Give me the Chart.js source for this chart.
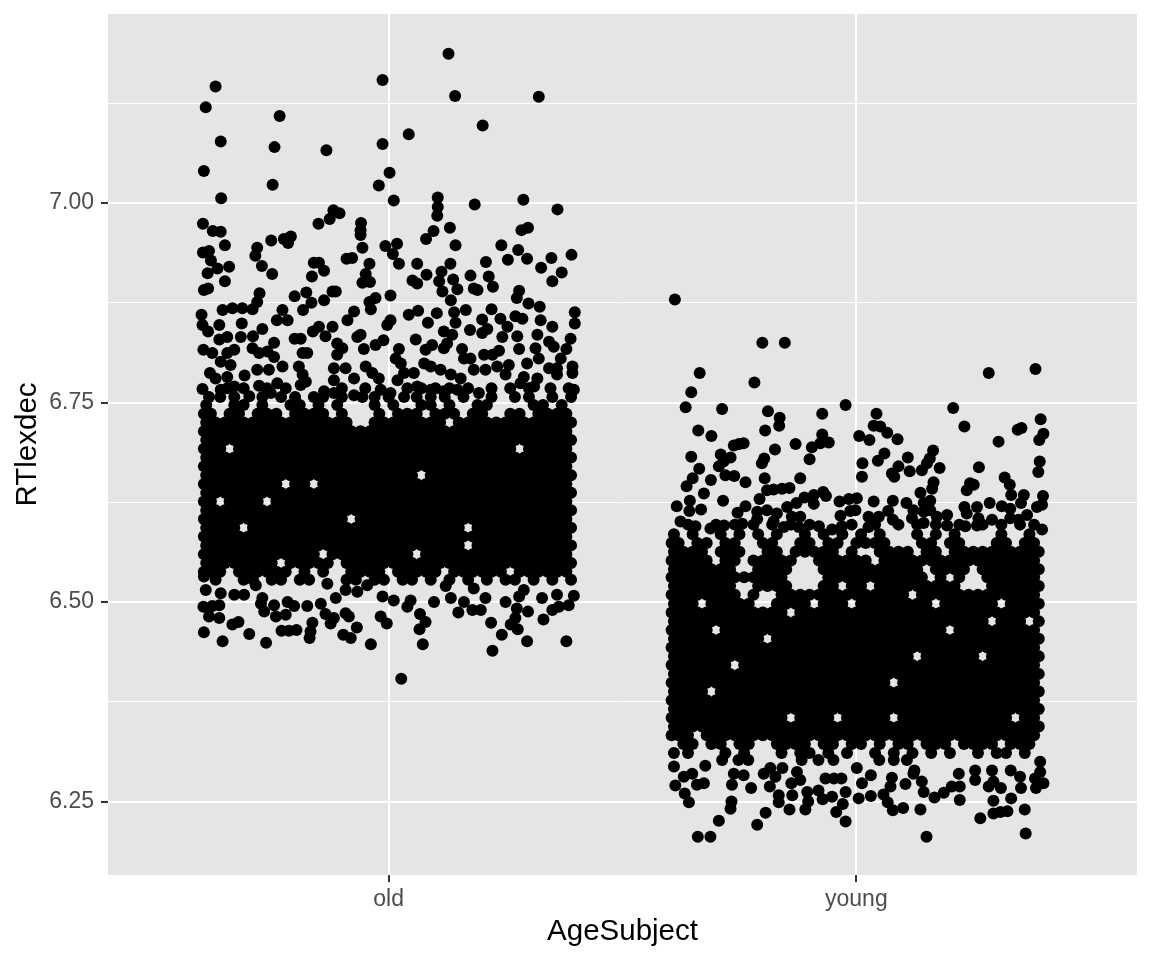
<!DOCTYPE html>
<html>
<head>
<meta charset="utf-8">
<style>body{margin:0;background:#fff}canvas{display:block}</style>
<script src="https://cdn.jsdelivr.net/npm/chart.js@4"></script>
</head>
<body>
<canvas id="chart" width="1152" height="960"></canvas>
<script>
const categories = ['old', 'young'];
const categoryTicks = [1, 2];
const yTicks = [6.25, 6.375, 6.5, 6.625, 6.75, 6.875, 7, 7.125];
const yLabelled = [6.25, 6.5, 6.75, 7];

// each row: RTlexdec value, then the jittered x positions seen at that value
const oldRows = [
[7.187,1.128],[7.154,.987],[7.146,.63],[7.134,1.142],[7.133,1.321],[7.12,.609],[7.109,.767],[7.097,1.201],[7.086,1.043],[7.077,.641],[7.074,.987],[7.07,.756],[7.066,.867],[7.04,.605],[7.038,1.002],[7.023,.752],[7.022,.979],
[7.007,1.105],[7.006,.642],[7.004,1.288],[7.003,1.011],[6.998,1.184],[6.995,1.105],[6.992,1.361],[6.991,.882],[6.987,.895],[6.984,1.104],[6.98,.874],[6.975,.941],[6.974,.85,.603],[6.969,1.131,1.298],[6.966,.94,1.284],[6.965,.624,1.096],[6.964,.641],[6.96,.94],[6.958,.791],[6.955,.776,1.08],[6.953,.749],[6.95,.785],
[6.949,1.018],[6.947,.65,1.143,1.241],[6.946,.993],[6.944,.719,.944],[6.941,1.277],[6.94,.616],[6.938,.603],[6.936,1.009],[6.935,1.391],[6.934,.715],[6.931,.922,1.348],[6.93,.91,1.296],[6.929,1.255],[6.928,.62],[6.926,1.208],[6.925,.84,.851],[6.924,.959,1.022,1.061,1.132],[6.921,.729],[6.92,.659],[6.919,1.326],
[6.918,.634],[6.915,.862],[6.914,1.113],[6.913,1.37],[6.912,.613],[6.911,.751,.951],[6.91,1.081],[6.909,1.175],[6.908,.836,1.214],[6.904,1.138],[6.903,1.051],[6.902,.65,1.35,1.108],[6.901,.96],[6.9,.944],[6.899,1.061],[6.895,1.223],[6.893,.614,1.182],[6.892,1.147],[6.891,.605,1.19],[6.89,1.279],[6.889,.88,.887,1.115],[6.888,.824],[6.887,.724],
[6.884,1.004],[6.883,.799],[6.881,.972,1.274],[6.878,.862,1.133],[6.876,.719,.959],[6.875,.835],[6.874,1.299],[6.87,1.323],[6.868,.666,.687],[6.867,.709,.962,1.22],[6.866,.645,.817,.773,1.165],[6.865,1.063],[6.864,.926],[6.863,1.14,1.398],[6.862,1.103],[6.86,.6,1.043],[6.858,1.271],[6.855,1.239,1.286],[6.854,1.2],[6.853,.761,.784,.912,1.004,1.325],[6.85,1.084,1.143],[6.849,.686,1.398],[6.847,.602,.638,.997],[6.845,.851,.88,1.254,1.35],[6.842,.73,1.211],[6.841,1.174],
[6.839,.614,.838,1.118],[6.837,1.2],[6.835,.94,1.136,1.318],[6.833,.71,.865,1.275],[6.832,.655,.684,.933,1.243],[6.83,.799,.812,1.389],[6.829,.638,1.058],[6.828,.989],[6.826,1.343],[6.825,.755],[6.824,.89,1.125],[6.822,.972,1.093],[6.82,1.353],[6.818,.709,.901,1.118,1.314],[6.817,.947,1.022,1.157,1.279,1.38],[6.816,.604,.67,1.079],[6.815,1.236],[6.814,.741],[6.812,.623,.655,.723,.816,.826],[6.81,.89,1.204,1.222],[6.807,.755],[6.805,1.015,1.161,1.175,1.321,1.368],[6.801,.641],
[6.799,1.026,1.076,1.296],[6.797,.662,1.257],[6.795,.773,.808,.951,1.09,1.232,1.393],[6.793,.883,.908,1.343,1.36],[6.791,.719,.744,1.111,1.182,1.207],[6.787,.618,.965,1.033,1.054,1.393],[6.785,.816,1.133,1.25,1.36],[6.784,.692],[6.782,.655,1.289],[6.78,.63,.926,.979,1.154,1.318],[6.778,.883,1.019],[6.776,.823],[6.774,.762,1.282],[6.772,.812],[6.771,.723],[6.77,.67,1.061,1.311],[6.768,1.346,1.385,.655,.69,.74,.78,.9,.95,1.04,1.07,1.1,1.13,1.17,1.22,1.26,1.3],[6.767,.602],[6.766,.641,.983,1.09,1.147,1.396],[6.764,.862,1.118],[6.762,.748,.883,1.004,1.193],[6.759,.926],[6.758,.702],[6.757,.616,.944,1.033,.64,.67,.73,.77,.8,.84,.86,.9,.97,1,1.06,1.09,1.12,1.16,1.22,1.27,1.3,1.35,1.39],
[6.747,.61,.67,.69,.73,.79,.81,.85,.89,.97,1.01,1.07,1.09,1.13,1.19,1.21,1.31,1.33,1.37],
[6.736,.605,.62,.66,.68,.72,.74,.76,.8,.82,.84,.86,.9,.98,1.02,1.04,1.06,1.1,1.12,1.14,1.18,1.2,1.26,1.28,1.32,1.34,1.36,1.38],
[6.725,.61,.63,.65,.67,.69,.71,.73,.75,.77,.79,.81,.83,.85,.87,.89,.91,.97,.99,1.01,1.03,1.05,1.07,1.09,1.11,1.15,1.17,1.19,1.21,1.23,1.25,1.27,1.29,1.31,1.33,1.35,1.37,1.39],
[6.714,.605,.62,.64,.66,.68,.7,.72,.74,.76,.78,.8,.82,.84,.86,.88,.9,.92,.94,.96,.98,1,1.02,1.04,1.06,1.08,1.1,1.12,1.14,1.16,1.18,1.2,1.22,1.24,1.26,1.28,1.3,1.32,1.34,1.36,1.38],
[6.703,.61,.63,.65,.67,.69,.71,.73,.75,.77,.79,.81,.83,.85,.87,.89,.91,.93,.95,.97,.99,1.01,1.03,1.05,1.07,1.09,1.11,1.13,1.15,1.17,1.19,1.21,1.23,1.25,1.27,1.29,1.31,1.33,1.35,1.37,1.39],
[6.692,.605,.62,.64,.68,.7,.72,.74,.76,.78,.8,.82,.84,.86,.88,.9,.92,.94,.96,.98,1,1.02,1.04,1.06,1.08,1.1,1.12,1.14,1.16,1.18,1.2,1.22,1.24,1.26,1.3,1.32,1.34,1.36,1.38],
[6.681,.61,.63,.65,.67,.69,.71,.73,.75,.77,.79,.81,.83,.85,.87,.89,.91,.93,.95,.97,.99,1.01,1.03,1.05,1.07,1.09,1.11,1.13,1.15,1.17,1.19,1.21,1.23,1.25,1.27,1.29,1.31,1.33,1.35,1.37,1.39],
[6.67,.605,.62,.64,.66,.68,.7,.72,.74,.76,.78,.8,.82,.84,.86,.88,.9,.92,.94,.96,.98,1,1.02,1.04,1.06,1.08,1.1,1.12,1.14,1.16,1.18,1.2,1.22,1.24,1.26,1.28,1.3,1.32,1.34,1.36,1.38],
[6.659,.61,.63,.65,.67,.69,.71,.73,.75,.77,.79,.81,.83,.85,.87,.89,.91,.93,.95,.97,.99,1.01,1.03,1.05,1.09,1.11,1.13,1.15,1.17,1.19,1.21,1.23,1.25,1.27,1.29,1.31,1.33,1.35,1.37,1.39],
[6.648,.605,.62,.64,.66,.68,.7,.72,.74,.76,.8,.82,.86,.88,.9,.92,.94,.96,.98,1,1.02,1.04,1.06,1.08,1.1,1.12,1.14,1.16,1.18,1.2,1.22,1.24,1.26,1.28,1.3,1.32,1.34,1.36,1.38],
[6.637,.61,.63,.65,.67,.69,.71,.73,.75,.77,.79,.81,.83,.85,.87,.89,.91,.93,.95,.97,.99,1.01,1.03,1.05,1.07,1.09,1.11,1.13,1.15,1.17,1.19,1.21,1.23,1.25,1.27,1.29,1.31,1.33,1.35,1.37,1.39],
[6.626,.605,.62,.66,.68,.7,.72,.76,.78,.8,.82,.84,.86,.88,.9,.92,.94,.96,.98,1,1.02,1.04,1.06,1.08,1.1,1.12,1.14,1.16,1.18,1.2,1.22,1.24,1.26,1.28,1.3,1.32,1.34,1.36,1.38],
[6.615,.61,.63,.65,.67,.69,.71,.73,.75,.77,.79,.81,.83,.85,.87,.89,.91,.93,.95,.97,.99,1.01,1.03,1.05,1.07,1.09,1.11,1.13,1.15,1.17,1.19,1.21,1.23,1.25,1.27,1.29,1.31,1.33,1.35,1.37,1.39],
[6.604,.605,.62,.64,.66,.68,.7,.72,.74,.76,.78,.8,.82,.84,.86,.88,.9,.94,.96,.98,1,1.02,1.04,1.06,1.08,1.1,1.12,1.14,1.16,1.18,1.2,1.22,1.24,1.26,1.28,1.3,1.32,1.34,1.36,1.38],
[6.593,.61,.63,.65,.67,.71,.73,.75,.77,.79,.81,.83,.85,.87,.89,.91,.93,.95,.97,.99,1.01,1.03,1.05,1.07,1.09,1.11,1.13,1.15,1.19,1.21,1.23,1.25,1.27,1.29,1.31,1.33,1.35,1.37,1.39],
[6.582,.605,.62,.64,.66,.68,.7,.72,.74,.76,.78,.8,.82,.84,.86,.88,.9,.92,.94,.96,.98,1,1.02,1.04,1.06,1.08,1.1,1.12,1.14,1.16,1.18,1.2,1.22,1.24,1.26,1.28,1.3,1.32,1.34,1.36,1.38],
[6.571,.61,.63,.65,.67,.69,.71,.73,.75,.77,.79,.81,.83,.85,.87,.89,.91,.93,.95,.97,.99,1.01,1.03,1.05,1.07,1.09,1.11,1.13,1.15,1.19,1.21,1.23,1.25,1.27,1.29,1.31,1.33,1.35,1.37,1.39],
[6.56,.605,.62,.64,.66,.68,.7,.72,.74,.76,.78,.8,.82,.84,.88,.9,.92,.94,.96,.98,1,1.02,1.04,1.08,1.1,1.12,1.14,1.16,1.18,1.2,1.22,1.24,1.26,1.28,1.3,1.32,1.34,1.36,1.38],
[6.549,.61,.63,.65,.67,.69,.71,.73,.75,.79,.81,.83,.85,.87,.91,.93,.95,.97,.99,1.01,1.03,1.05,1.07,1.09,1.11,1.13,1.15,1.17,1.19,1.21,1.23,1.25,1.27,1.29,1.31,1.33,1.35,1.37,1.39],
[6.538,.605,.62,.64,.68,.7,.72,.74,.76,.78,.82,.86,.92,.94,.96,.98,1.02,1.04,1.06,1.08,1.1,1.14,1.16,1.18,1.2,1.22,1.24,1.28,1.3,1.32,1.34,1.36,1.38],
[6.528,.63,.69,.71,.75,.77,.81,.83,.91,.93,.97,.99,1.03,1.05,1.09,1.13,1.17,1.21,1.25,1.27,1.31,1.35,1.39],
[6.532,.605],[6.523,.869],[6.521,.716,.954],[6.52,1.122],[6.517,1.182],[6.515,.609,.908,1.289],[6.513,.933],[6.511,.641],[6.509,.67,.691,1.36],[6.508,1.396],[6.507,.987,1.279],[6.505,.73,.887,1.133,1.207,1.328],[6.502,1.011,1.047],[6.5,.784,1.097,1.161,1.25],[6.498,.855,.727],[6.496,.755,.638,1.385],[6.495,.798,.826,.623],[6.494,1.04,1.364,.604],[6.492,1.274],[6.49,1.179,1.197,1.35],
[6.488,.734,1.298],[6.487,1.149],[6.486,.908],[6.485,.865,1.067],[6.484,.78],[6.482,.616,.759,.915,.983],[6.48,.638,.883,1.271],[6.478,1.331],[6.475,.679,1.079],[6.474,.837,1.219],[6.473,.876,.996],[6.472,.666,1.261],[6.468,.932],[6.466,1.066,1.276],[6.465,.803],[6.464,.771,.787],[6.463,.833],[6.462,.605],[6.46,.702],[6.459,.903,1.242],[6.455,.831,.919],[6.451,.645,1.296,1.38],[6.449,.738],[6.447,.962,1.073],[6.439,1.222],[6.404,1.027]
];

const youngRows = [
[6.879,1.612],[6.825,1.799,1.847],[6.792,2.383],[6.787,1.665,2.283],[6.775,1.782],[6.763,1.647],[6.747,1.977],[6.744,1.635],[6.743,2.207],[6.742,1.713],[6.739,1.811],[6.736,1.927,2.043],[6.731,1.836],[6.729,2.394],[6.721,1.835,2.037],[6.72,2.231,2.051],[6.718,2.353],[6.716,2.345],[6.715,1.662,1.805],[6.712,2.066],[6.711,2.4],[6.71,1.927],[6.708,1.69,2.006],[6.704,2.088],[6.703,2.028,2.391],[6.701,2.304],[6.7,1.941],[6.699,1.759,1.923],[6.698,1.749,1.87],[6.696,1.738],[6.694,1.905],[6.691,1.826],[6.69,2.164],
[6.686,2.06],[6.685,1.71],[6.682,1.647],[6.681,1.731,2.11],[6.68,1.803,2.157],[6.679,1.9],[6.677,2.046],[6.676,1.716,2.392],[6.674,1.798,2.013,2.151],[6.67,1.706,2.09],[6.669,2.262],[6.668,2.178],[6.667,1.664],[6.665,2.14],[6.664,2.114],[6.663,2.389],[6.661,2.076],[6.659,1.72],[6.658,1.739],[6.657,2.012,2.081],[6.656,2.317],[6.655,1.65,1.804,1.88],[6.653,1.689],[6.65,1.763,2.165],[6.649,2.243],[6.647,2.328,2.251],[6.645,1.637],[6.643,1.857],[6.642,1.841,2.162],[6.641,1.823],[6.64,1.809,2.236],
[6.638,1.929],[6.637,2.137],[6.636,1.674],[6.634,1.909,2.331,2.358],[6.633,1.935,2.399],[6.631,1.889],[6.63,2.001],[6.629,1.793,1.984],[6.627,1.715,1.644,2.078,2.158],[6.626,1.964,2.037],[6.624,1.872,2.107,2.144,2.285,2.352],[6.623,1.909],[6.622,2.397],[6.62,1.616,1.763,2.311],[6.619,1.852,2.231,2.258,2.386],[6.617,2.329],[6.616,1.668],[6.615,1.809,1.998,2.122,2.158],[6.614,1.643,1.987,2.068],[6.613,1.788,2.144],[6.612,1.746],[6.611,1.83,2.236],[6.609,2.194,2.365],[6.608,1.966],[6.607,1.88,1.862,2.026,2.048,2.172],[6.605,2.119,2.261,2.329],[6.604,1.788],[6.603,2.078,2.29,2.347],[6.601,1.624,1.823],[6.599,2.144],[6.598,1.756],[6.597,1.64,1.7,1.74,1.78,1.82,1.86,1.9,1.99,2.04,2.09,2.13,2.17,2.22,2.27,2.31,2.35,2.38],[6.596,1.717,2.194,2.258],[6.595,1.656,1.92,1.969,2.233],[6.594,1.845,1.877,2.026],[6.592,1.688],[6.591,1.948,2.397],
[6.585,1.61,1.65,1.71,1.75,1.79,1.83,1.89,1.93,1.97,2.01,2.05,2.13,2.17,2.21,2.31,2.37],
[6.574,1.605,1.62,1.66,1.68,1.72,1.74,1.8,1.82,1.88,1.9,1.94,1.96,2,2.02,2.04,2.06,2.14,2.16,2.2,2.22,2.3,2.32,2.36,2.38],
[6.563,1.61,1.63,1.65,1.67,1.71,1.73,1.75,1.81,1.83,1.87,1.89,1.91,1.93,1.95,1.99,2.05,2.07,2.09,2.11,2.15,2.17,2.21,2.23,2.25,2.27,2.29,2.31,2.33,2.35,2.37,2.39],
[6.552,1.605,1.62,1.64,1.66,1.68,1.72,1.74,1.78,1.8,1.82,1.84,1.86,1.92,1.94,1.96,1.98,2,2.02,2.06,2.08,2.1,2.12,2.14,2.16,2.18,2.2,2.22,2.24,2.26,2.28,2.3,2.32,2.34,2.36,2.38],
[6.541,1.61,1.63,1.65,1.67,1.69,1.71,1.73,1.79,1.81,1.83,1.85,1.93,1.95,1.97,1.99,2.01,2.03,2.05,2.07,2.09,2.11,2.13,2.17,2.19,2.21,2.23,2.27,2.29,2.31,2.33,2.35,2.37,2.39],
[6.531,1.605,1.62,1.64,1.66,1.68,1.7,1.72,1.74,1.76,1.78,1.8,1.82,1.84,1.94,1.96,1.98,2,2.02,2.04,2.06,2.08,2.1,2.12,2.14,2.18,2.22,2.28,2.3,2.32,2.34,2.36,2.38],
[6.52,1.61,1.63,1.65,1.67,1.69,1.71,1.73,1.79,1.81,1.83,1.85,1.93,1.95,1.99,2.01,2.05,2.07,2.09,2.11,2.13,2.15,2.17,2.19,2.21,2.29,2.31,2.33,2.35,2.37,2.39],
[6.509,1.605,1.62,1.64,1.66,1.68,1.7,1.72,1.74,1.78,1.84,1.86,1.88,1.9,1.92,1.94,1.96,1.98,2,2.02,2.04,2.06,2.08,2.1,2.14,2.16,2.18,2.2,2.22,2.24,2.26,2.28,2.3,2.32,2.34,2.36,2.38],
[6.498,1.61,1.63,1.65,1.69,1.71,1.73,1.75,1.77,1.83,1.85,1.87,1.89,1.93,1.95,1.97,2.01,2.03,2.05,2.07,2.09,2.11,2.13,2.15,2.19,2.21,2.23,2.25,2.27,2.29,2.33,2.35,2.37,2.39],
[6.487,1.605,1.62,1.64,1.66,1.68,1.7,1.72,1.74,1.76,1.78,1.8,1.82,1.84,1.88,1.9,1.92,1.94,1.96,1.98,2,2.02,2.04,2.06,2.08,2.1,2.12,2.14,2.16,2.18,2.2,2.22,2.24,2.26,2.28,2.3,2.32,2.34,2.36,2.38],
[6.476,1.61,1.63,1.65,1.67,1.69,1.71,1.73,1.75,1.77,1.79,1.81,1.83,1.85,1.87,1.89,1.91,1.93,1.95,1.97,1.99,2.01,2.03,2.05,2.07,2.09,2.11,2.13,2.15,2.17,2.19,2.21,2.23,2.25,2.27,2.31,2.33,2.35,2.39],
[6.465,1.605,1.62,1.64,1.66,1.68,1.72,1.74,1.76,1.78,1.8,1.82,1.84,1.86,1.88,1.9,1.92,1.94,1.96,1.98,2,2.02,2.04,2.06,2.08,2.1,2.12,2.14,2.16,2.18,2.22,2.24,2.26,2.28,2.3,2.32,2.34,2.36,2.38],
[6.454,1.61,1.63,1.65,1.67,1.69,1.71,1.73,1.75,1.77,1.79,1.83,1.85,1.87,1.89,1.91,1.93,1.95,1.97,1.99,2.01,2.03,2.05,2.07,2.09,2.11,2.13,2.15,2.17,2.19,2.21,2.23,2.25,2.27,2.29,2.31,2.33,2.35,2.37,2.39],
[6.443,1.605,1.62,1.64,1.66,1.68,1.7,1.72,1.74,1.76,1.78,1.8,1.82,1.84,1.86,1.88,1.9,1.92,1.94,1.96,1.98,2,2.02,2.04,2.06,2.08,2.1,2.12,2.14,2.16,2.18,2.2,2.22,2.24,2.26,2.28,2.3,2.32,2.34,2.36,2.38],
[6.432,1.61,1.63,1.65,1.67,1.69,1.71,1.73,1.75,1.77,1.79,1.81,1.83,1.85,1.87,1.89,1.91,1.93,1.95,1.97,1.99,2.01,2.03,2.05,2.07,2.09,2.11,2.15,2.17,2.19,2.21,2.23,2.25,2.29,2.31,2.33,2.35,2.37,2.39],
[6.421,1.605,1.62,1.64,1.66,1.68,1.7,1.72,1.76,1.78,1.8,1.82,1.84,1.86,1.88,1.9,1.92,1.94,1.96,1.98,2,2.02,2.04,2.06,2.08,2.1,2.12,2.14,2.16,2.18,2.2,2.22,2.24,2.26,2.28,2.3,2.32,2.34,2.36,2.38],
[6.41,1.61,1.63,1.65,1.67,1.69,1.71,1.73,1.75,1.77,1.79,1.81,1.83,1.85,1.87,1.89,1.91,1.93,1.95,1.97,1.99,2.01,2.03,2.05,2.07,2.09,2.11,2.13,2.15,2.17,2.19,2.21,2.23,2.25,2.27,2.29,2.31,2.33,2.35,2.37,2.39],
[6.399,1.605,1.62,1.64,1.66,1.68,1.7,1.72,1.74,1.76,1.78,1.8,1.82,1.84,1.86,1.88,1.9,1.92,1.94,1.96,1.98,2,2.02,2.04,2.06,2.1,2.12,2.14,2.16,2.18,2.2,2.22,2.24,2.26,2.28,2.3,2.32,2.34,2.36,2.38],
[6.388,1.61,1.63,1.65,1.67,1.71,1.73,1.75,1.77,1.79,1.81,1.83,1.85,1.87,1.89,1.91,1.93,1.95,1.97,1.99,2.01,2.03,2.05,2.07,2.09,2.11,2.13,2.15,2.17,2.19,2.21,2.23,2.25,2.27,2.29,2.31,2.33,2.35,2.37,2.39],
[6.377,1.605,1.62,1.64,1.66,1.68,1.7,1.72,1.74,1.76,1.78,1.8,1.82,1.84,1.86,1.88,1.9,1.92,1.94,1.96,1.98,2,2.02,2.04,2.06,2.08,2.1,2.12,2.14,2.16,2.18,2.2,2.22,2.24,2.26,2.28,2.3,2.32,2.34,2.36,2.38],
[6.366,1.61,1.63,1.65,1.67,1.69,1.71,1.73,1.75,1.77,1.79,1.81,1.83,1.85,1.87,1.89,1.91,1.93,1.95,1.97,1.99,2.01,2.03,2.05,2.07,2.09,2.11,2.13,2.15,2.17,2.19,2.21,2.23,2.25,2.27,2.29,2.31,2.33,2.35,2.37,2.39],
[6.355,1.605,1.62,1.64,1.66,1.68,1.7,1.72,1.74,1.76,1.78,1.8,1.82,1.84,1.88,1.9,1.92,1.94,1.98,2,2.02,2.04,2.06,2.1,2.12,2.14,2.16,2.18,2.2,2.22,2.24,2.26,2.28,2.3,2.32,2.36,2.38],
[6.344,1.61,1.63,1.65,1.67,1.69,1.71,1.73,1.75,1.77,1.79,1.81,1.83,1.85,1.87,1.89,1.91,1.93,1.95,1.97,1.99,2.01,2.03,2.05,2.07,2.09,2.11,2.13,2.15,2.17,2.19,2.21,2.23,2.25,2.27,2.29,2.31,2.33,2.35,2.37,2.39],
[6.333,1.605,1.62,1.64,1.68,1.7,1.72,1.74,1.76,1.78,1.8,1.82,1.84,1.86,1.88,1.9,1.92,1.94,1.96,1.98,2,2.02,2.04,2.06,2.08,2.1,2.12,2.14,2.16,2.18,2.2,2.22,2.24,2.26,2.28,2.3,2.32,2.34,2.36,2.38],
[6.322,1.63,1.65,1.69,1.71,1.75,1.77,1.83,1.85,1.87,1.89,1.93,1.95,1.99,2.01,2.05,2.09,2.11,2.15,2.17,2.19,2.23,2.25,2.27,2.29,2.33,2.35,2.37],
[6.311,1.61,1.64,1.72,1.76,1.84,1.88,1.9,1.94,1.98,2.04,2.08,2.12,2.16,2.2,2.26,2.3,2.32,2.36],
[6.302,1.713,1.748,1.769,1.883,1.919,1.951,2.049,2.08,2.108],[6.3,2.393],[6.295,1.677],[6.294,1.61],[6.292,1.816,1.842,2.001],[6.289,2.124,2.254,2.29,2.33],[6.287,1.873,2.393],[6.285,1.649,1.738,1.802,2.122,2.219],[6.283,1.759,2.031],[6.281,1.631,1.827,2.35],[6.28,2.076],[6.279,1.934,1.952,1.968,2.382],[6.277,1.88,2.254],[6.275,2.14,2.293],[6.273,1.674,1.861,2.012,2.4],[6.272,2.105],[6.271,1.659,1.734],[6.27,1.613],[6.269,1.815,2.073,2.204,2.221,2.283],[6.267,1.775,2.309,2.352,2.384],[6.264,1.919],
[6.262,1.895,1.977,2.144],[6.261,2.187],[6.26,1.633],[6.259,2.058],[6.258,1.834,1.863],[6.257,2.031],[6.256,1.948],[6.255,2.167],[6.254,2.005,2.331],[6.253,1.928],[6.252,2.221],[6.251,2.293],[6.25,1.733,1.897],[6.249,1.642,1.834,2.067],[6.247,1.971],[6.242,2.1],[6.241,1.731],[6.24,1.857,1.891,2.137,2.36],[6.239,2.078],[6.238,2.323],[6.237,1.957,2.308],[6.236,1.806],[6.235,2.293],[6.229,2.265],[6.226,1.706],[6.225,1.977],[6.221,1.788],[6.21,2.362],[6.206,1.661,1.688,2.15]
];

const toPoints = rows => rows.flatMap(([y, ...xs]) => xs.map(x => ({ x, y })));

// Grey panel behind the grid
const panelPlugin = {
    id: 'panel',
    beforeDraw(chart) {
        const { ctx, chartArea: a } = chart;
        ctx.save();
        ctx.fillStyle = '#E5E5E5';
        ctx.fillRect(a.left, a.top, a.right - a.left, a.bottom - a.top);
        ctx.restore();
    }
};

const FONT = '"Liberation Sans", Arial, sans-serif';

new Chart(document.getElementById('chart').getContext('2d'), {
    type: 'scatter',
    data: {
        datasets: [
            { label: categories[0], data: toPoints(oldRows) },
            { label: categories[1], data: toPoints(youngRows) }
        ]
    },
    plugins: [panelPlugin],
    options: {
        responsive: false,
        animation: false,
        layout: { padding: { top: 14, right: 15, left: 0, bottom: 0 } },
        elements: { point: { radius: 6, backgroundColor: '#000', borderWidth: 0 } },
        plugins: { legend: { display: false }, tooltip: { enabled: false } },
        scales: {
            x: {
                type: 'linear',
                min: 0.4,
                max: 2.6,
                afterBuildTicks: s => { s.ticks = categoryTicks.map(value => ({ value })); },
                afterFit: s => { s.height = 85; s.paddingLeft = 0; s.paddingRight = 0; },
                border: { display: false },
                grid: { color: '#fff', lineWidth: 2, tickColor: '#333', tickLength: 7, tickWidth: 2 },
                ticks: {
                    autoSkip: false,
                    maxRotation: 0,
                    padding: 4,
                    color: '#4D4D4D',
                    font: { family: FONT, size: 23 },
                    callback: v => categories[categoryTicks.indexOf(v)]
                },
                title: { display: true, text: 'AgeSubject', color: '#000', font: { family: FONT, size: 29.5 }, padding: { top: 4, bottom: 10 } }
            },
            y: {
                min: 6.158,
                max: 7.2368,
                afterBuildTicks: s => { s.ticks = yTicks.map(value => ({ value })); },
                afterFit: s => { s.width = 108; s.paddingTop = 0; s.paddingBottom = 0; },
                border: { display: false },
                grid: {
                    color: '#fff',
                    lineWidth: c => (yLabelled.includes(c.tick.value) ? 2 : 1),
                    tickColor: c => (yLabelled.includes(c.tick.value) ? '#333' : 'rgba(0,0,0,0)'),
                    tickLength: 7,
                    tickWidth: 2
                },
                ticks: {
                    autoSkip: false,
                    padding: 7,
                    color: '#4D4D4D',
                    font: { family: FONT, size: 23 },
                    callback: v => (yLabelled.includes(v) ? v.toFixed(2) : '')
                },
                title: { display: true, text: 'RTlexdec', color: '#000', font: { family: FONT, size: 29.5 }, padding: { top: 10, bottom: 4 } }
            }
        }
    }
});
</script>
</body>
</html>
